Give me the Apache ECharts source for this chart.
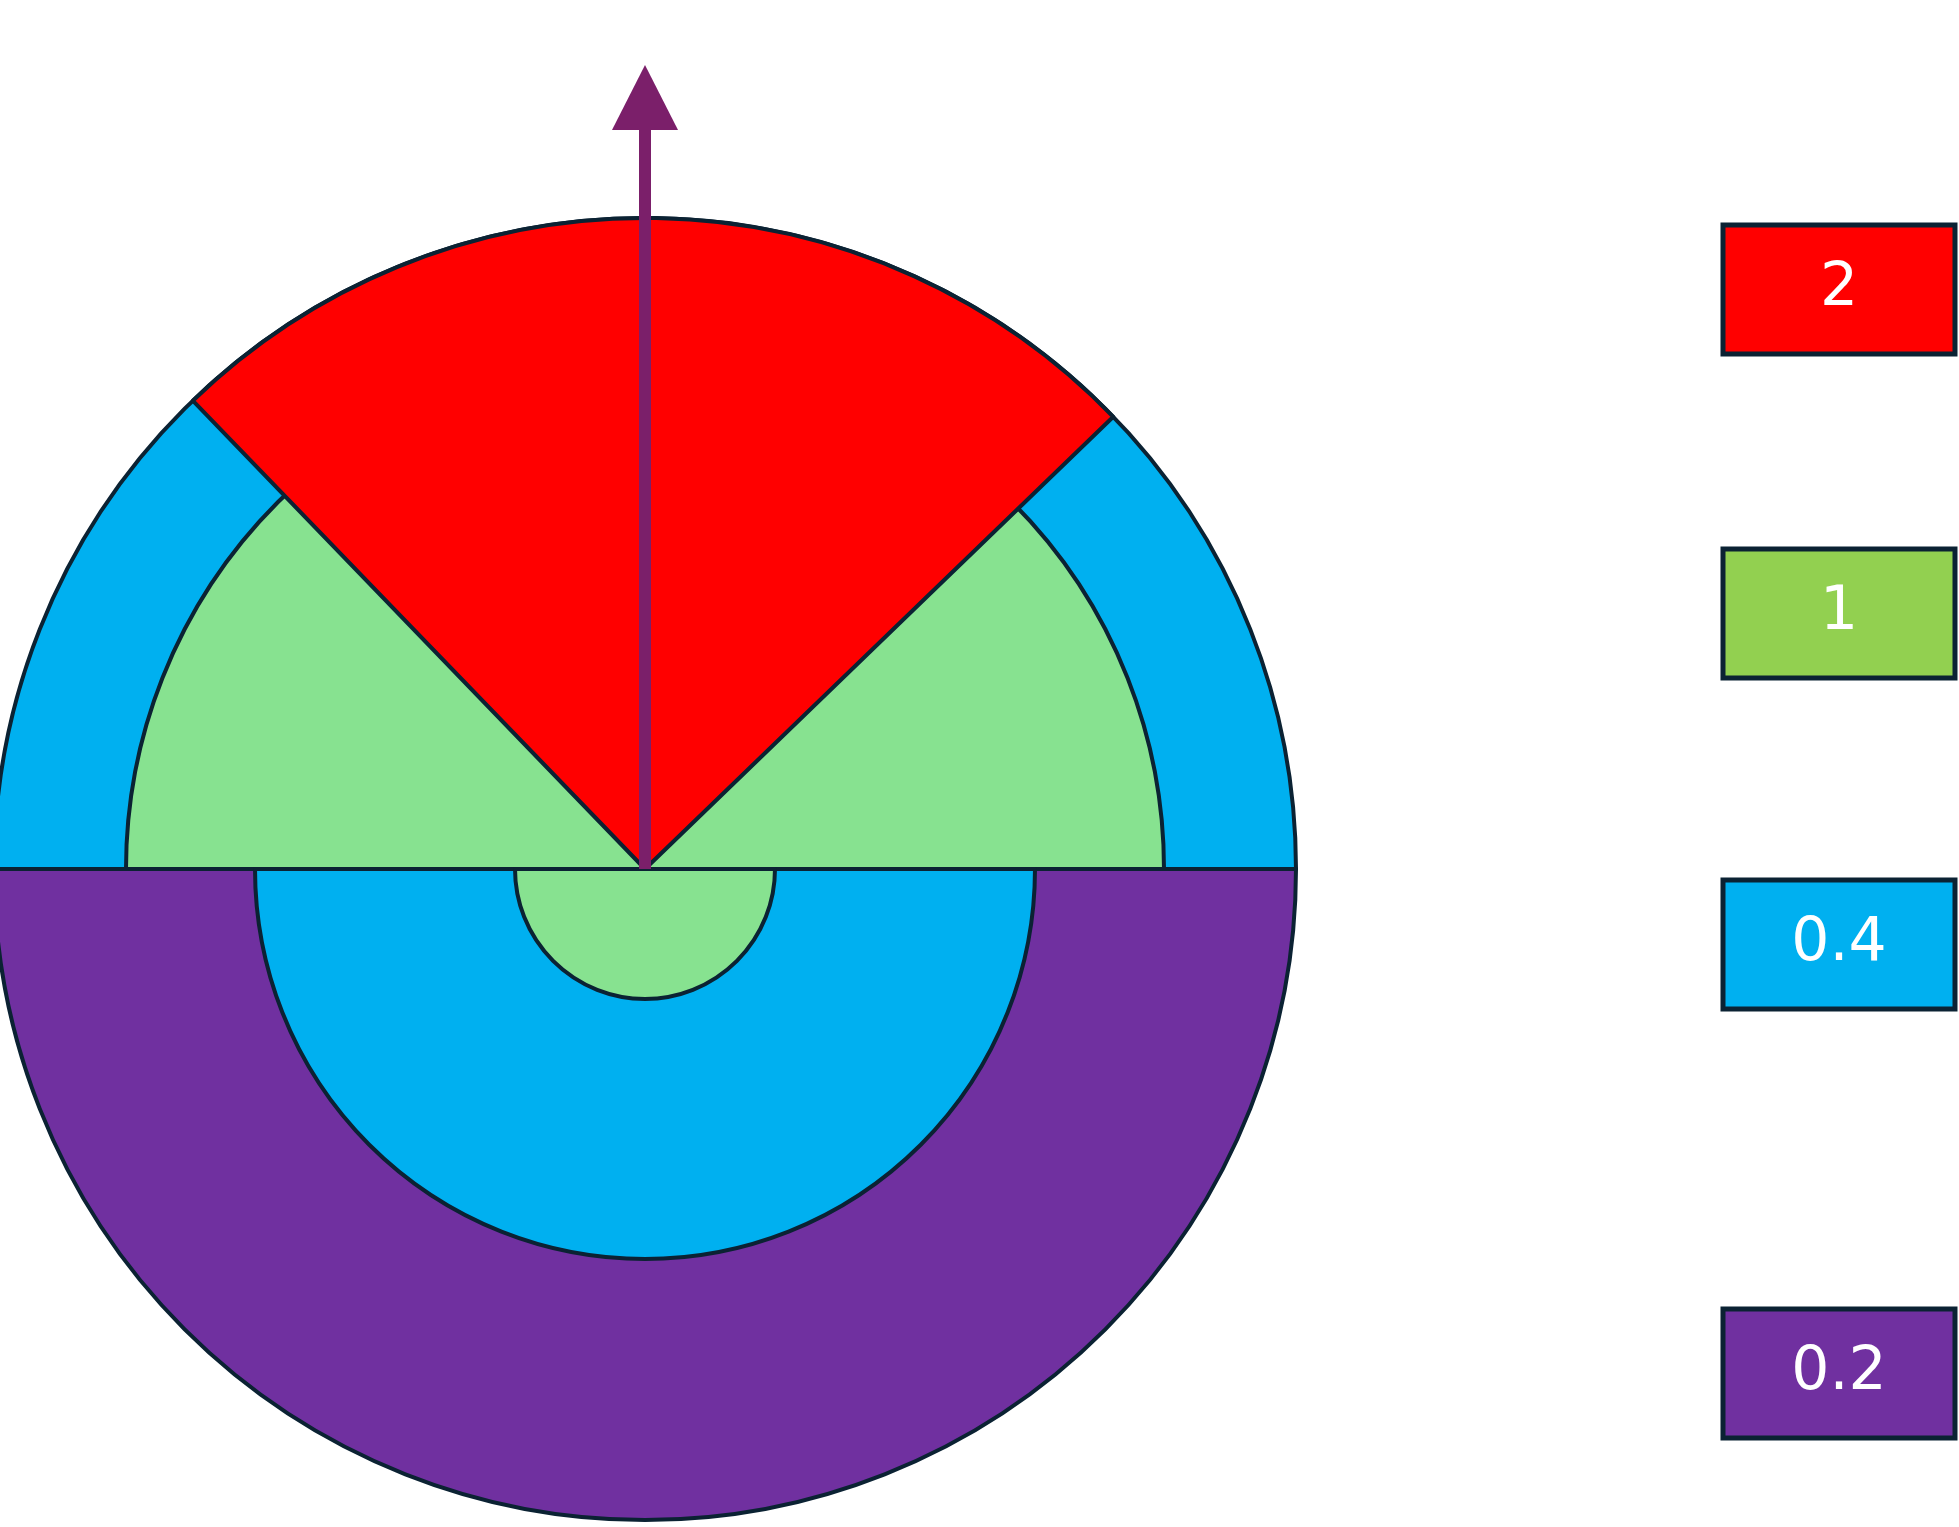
<!DOCTYPE html>
<html>
<head>
<meta charset="utf-8">
<script src="https://cdn.jsdelivr.net/npm/echarts@6/dist/echarts.min.js"></script>
<style>html,body{margin:0;padding:0;background:#fff}#main{width:1959px;height:1527px}</style>
</head>
<body>
<div id="main"></div>
<script>
// angles in degrees, clockwise from the left horizontal
const upperOuter = [46, 90, 44]      // blue | red | blue
const upperColors = ['#00b0f0', '#ff0000', '#00b0f0']
const lowerRings = [651, 390, 130]   // purple, blue, green radii (px)
const lowerColors = ['#7030a0', '#00b0f0', '#87e290']
const legendLabels = ['2', '1', '0.4', '0.2']
const legendColors = ['#ff0000', '#92d050', '#00b0f0', '#7030a0']
const legendY = [289, 613, 944, 1373]

const cx = 645, cy = 869, R = 651, Rg = 519
const stroke = '#0b2233'

const chart = echarts.init(document.getElementById('main'))

const slice = (v, c) => ({ value: v, itemStyle: { color: c, borderColor: stroke, borderWidth: 4 } })
const blank = v => ({ value: v, itemStyle: { color: 'none', borderWidth: 0 } })

const pie = (r, data) => ({
  type: 'pie', center: [cx, cy], radius: [0, r], startAngle: 180, clockwise: true,
  silent: true, label: { show: false }, labelLine: { show: false }, data, animation: false
})

const series = [
  pie(R, [slice(180, '#00b0f0'), blank(180)]),
  pie(Rg, [slice(180, '#87e290'), blank(180)]),
  pie(R, [blank(upperOuter[0]), slice(upperOuter[1], upperColors[1]), blank(upperOuter[2] + 180)])
]
lowerRings.forEach((r, i) => series.push(pie(r, [blank(180), slice(180, lowerColors[i])])))

const graphic = [
  { type: 'rect', shape: { x: cx - 6, y: 130, width: 12, height: cy - 130 }, style: { fill: '#7b1f6a' }, z: 100 },
  { type: 'polygon', shape: { points: [[cx, 65], [cx - 33, 130], [cx + 33, 130]] }, style: { fill: '#7b1f6a' }, z: 100 }
]
legendLabels.forEach((t, i) => {
  graphic.push({
    type: 'rect', shape: { x: 1723, y: legendY[i] - 64, width: 232, height: 129 },
    style: { fill: legendColors[i], stroke: stroke, lineWidth: 5 }
  })
  graphic.push({
    type: 'text', x: 1839, y: legendY[i],
    style: { text: t, fill: '#fff', font: '60px "DejaVu Sans"', align: 'center', verticalAlign: 'middle' }
  })
})

chart.setOption({ animation: false, series, graphic })
</script>
</body>
</html>
